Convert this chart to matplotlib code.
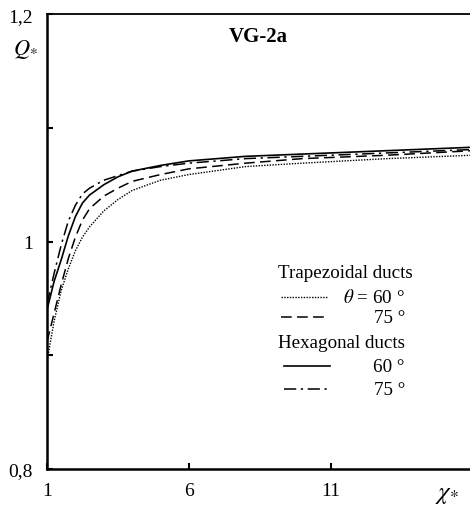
import numpy as np
import matplotlib.pyplot as plt

plt.rcParams["font.family"] = ["Liberation Serif", "DejaVu Serif"]
plt.rcParams["mathtext.fontset"] = "stix"

# chi_* values
x = [1, 1.25, 1.5, 1.75, 2, 2.25, 2.5, 3, 3.5, 4, 5, 6, 8, 10, 13, 16]

# Q_*
trap_60 = [0.895, 0.930, 0.957, 0.976, 0.992, 1.004, 1.013, 1.027, 1.037, 1.045, 1.054, 1.059, 1.066, 1.069, 1.073, 1.076]
trap_75 = [0.912, 0.937, 0.962, 0.985, 1.004, 1.019, 1.029, 1.040, 1.047, 1.053, 1.059, 1.064, 1.069, 1.073, 1.076, 1.080]
hex_60 = [0.940, 0.965, 0.984, 1.005, 1.022, 1.034, 1.041, 1.050, 1.057, 1.062, 1.067, 1.071, 1.075, 1.077, 1.080, 1.083]
hex_75 = [0.945, 0.972, 0.997, 1.018, 1.032, 1.042, 1.047, 1.054, 1.058, 1.062, 1.066, 1.069, 1.073, 1.075, 1.078, 1.081]

x_ticks = [1, 6, 11]
y_ticks = [0.8, 0.9, 1.0, 1.1, 1.2]
y_tick_labels = ["0,8", "", "1", "", "1,2"]

styles = {
    "dotted": dict(ls=(0, (1, 1)), lw=1.0),
    "dashed": dict(ls=(0, (7, 3.5)), lw=1.1),
    "solid": dict(ls="-", lw=1.2),
    "dashdot": dict(ls=(0, (8, 3, 1.5, 3)), lw=1.1),
}

fig = plt.figure(figsize=(4.7, 5.06), dpi=100)
ax = fig.add_axes([0.1, 0.071, 0.9, 0.899])

ax.plot(x, trap_60, color="black", **styles["dotted"])
ax.plot(x, trap_75, color="black", **styles["dashed"])
ax.plot(x, hex_60, color="black", **styles["solid"])
ax.plot(x, hex_75, color="black", **styles["dashdot"])

ax.set_xlim(1, 15.9)
ax.set_ylim(0.8, 1.2)
ax.set_xticks(x_ticks)
ax.set_yticks(y_ticks)
ax.set_yticklabels(y_tick_labels)
ax.tick_params(direction="in", length=4, width=1.5, labelsize=14)
ax.tick_params(axis="x", pad=9)
ax.tick_params(axis="y", pad=10)
ax.spines["left"].set_linewidth(1.8)
ax.spines["bottom"].set_linewidth(1.8)
ax.spines["top"].set_linewidth(1.3)
ax.spines["right"].set_visible(False)

ax.text(-0.052, 0.925, r"$Q_{*}$", transform=ax.transAxes, fontsize=16, ha="center", va="center")
ax.text(0.945, -0.055, r"$\chi_{*}$", transform=ax.transAxes, fontsize=18, ha="center", va="center")
ax.text(0.5, 0.952, "VG-2a", transform=ax.transAxes, fontsize=15, fontweight="bold", ha="center", va="center")

# legend drawn by hand
fs = 13.7
ax.text(0.546, 0.433, "Trapezoidal ducts", transform=ax.transAxes, fontsize=fs, va="center")
ax.plot([0.553, 0.662], [0.378, 0.378], transform=ax.transAxes, color="black", **styles["dotted"])
ax.text(0.846, 0.378, r"$\theta$ = 60 °", transform=ax.transAxes, fontsize=fs, va="center", ha="right")
ax.plot([0.553, 0.662], [0.334, 0.334], transform=ax.transAxes, color="black", **styles["dashed"])
ax.text(0.846, 0.334, "75 °", transform=ax.transAxes, fontsize=fs, va="center", ha="right")
ax.text(0.546, 0.279, "Hexagonal ducts", transform=ax.transAxes, fontsize=fs, va="center")
ax.plot([0.560, 0.669], [0.226, 0.226], transform=ax.transAxes, color="black", **styles["solid"])
ax.text(0.846, 0.226, "60 °", transform=ax.transAxes, fontsize=fs, va="center", ha="right")
ax.plot([0.560, 0.669], [0.176, 0.176], transform=ax.transAxes, color="black", **styles["dashdot"])
ax.text(0.846, 0.176, "75 °", transform=ax.transAxes, fontsize=fs, va="center", ha="right")

fig.savefig("out.png", dpi=100)
